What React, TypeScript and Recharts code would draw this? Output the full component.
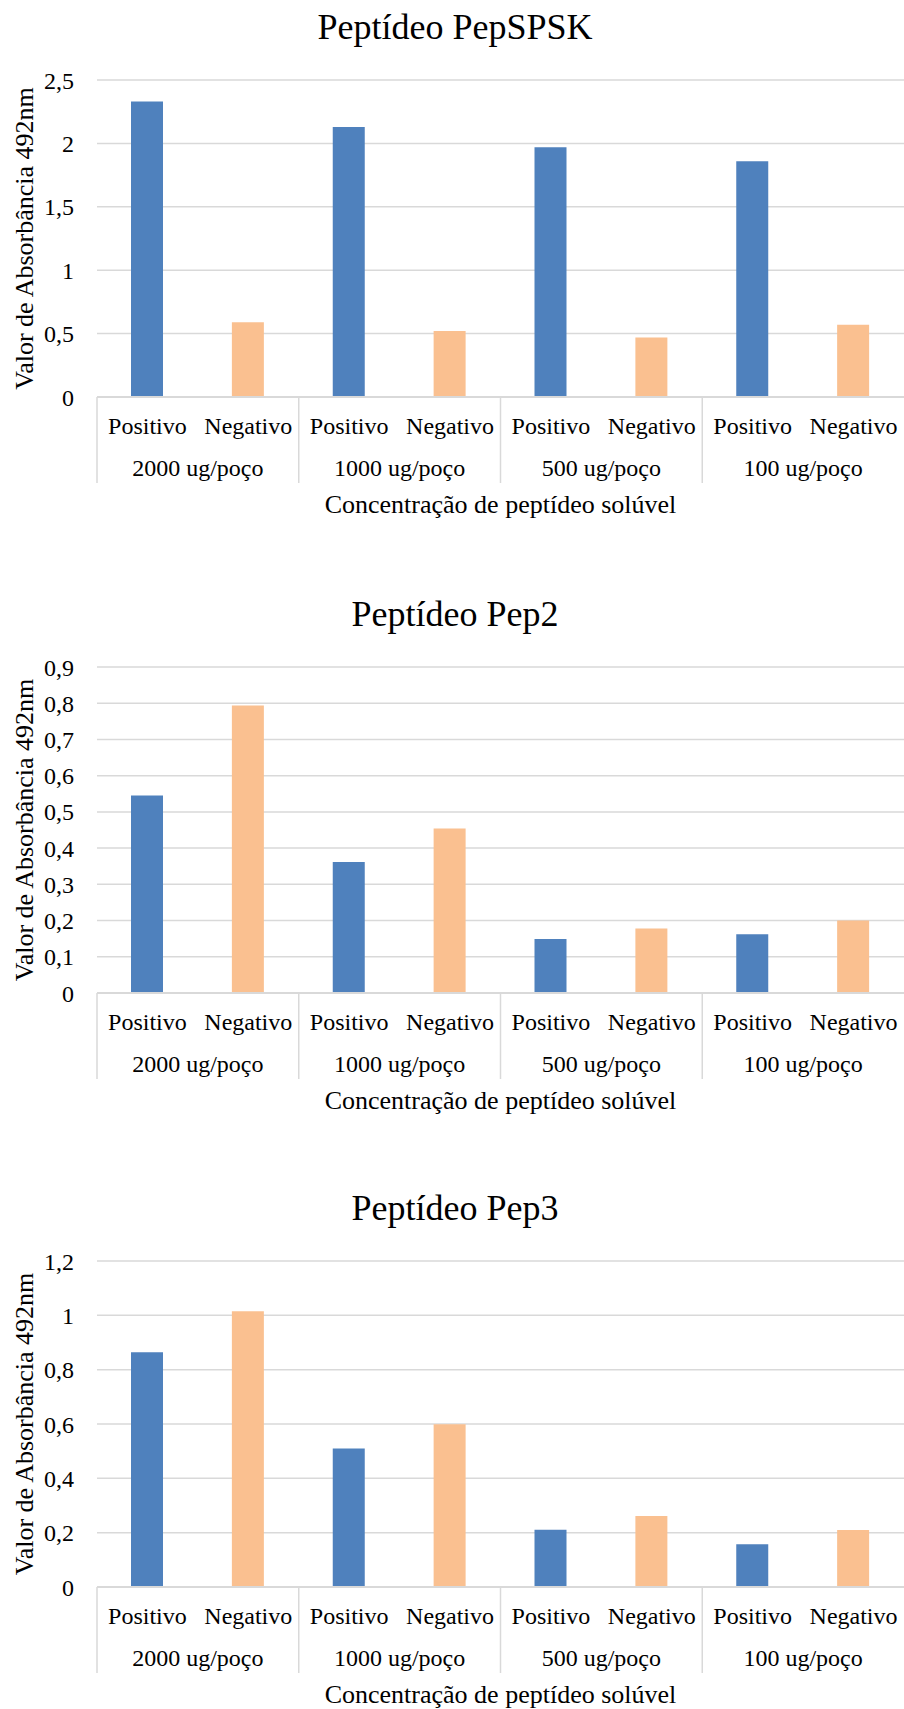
import React from 'react';
import { BarChart, Bar, XAxis, YAxis, CartesianGrid } from 'recharts';

const GROUPS = ['2000 ug/poço', '1000 ug/poço', '500 ug/poço', '100 ug/poço'];
const TYPES = ['Positivo', 'Negativo'];

const PEPSPSK_POSITIVO = [2.33, 2.13, 1.97, 1.86];
const PEPSPSK_NEGATIVO = [0.59, 0.52, 0.47, 0.57];
const PEPSPSK_TICKS = [0, 0.5, 1, 1.5, 2, 2.5];

const PEP2_POSITIVO = [0.545, 0.362, 0.149, 0.162];
const PEP2_NEGATIVO = [0.794, 0.454, 0.178, 0.2];
const PEP2_TICKS = [0, 0.1, 0.2, 0.3, 0.4, 0.5, 0.6, 0.7, 0.8, 0.9];

const PEP3_POSITIVO = [0.864, 0.51, 0.211, 0.157];
const PEP3_NEGATIVO = [1.015, 0.599, 0.261, 0.21];
const PEP3_TICKS = [0, 0.2, 0.4, 0.6, 0.8, 1, 1.2];

const COLORS = {
    positivo: '#4f81bd',
    negativo: '#fac090',
    grid: '#d9d9d9',
    text: '#000000',
};

const FONT = '"Liberation Serif", "Times New Roman", serif';

const CHART_W = 904;
const Y_AXIS_W = 97;
const TOP_PAD = 20;
const X_AXIS_H = 122;

type Row = { group: string; type: string; positivo: number | null; negativo: number | null };

function buildRows(pos: number[], neg: number[]): Row[] {
    const rows: Row[] = [];
    GROUPS.forEach((group, i) => {
        rows.push({ group, type: TYPES[0], positivo: pos[i], negativo: null });
        rows.push({ group, type: TYPES[1], positivo: null, negativo: neg[i] });
    });
    return rows;
}

const fmt = (v: number) => String(v).replace('.', ',');

// two-level category axis: type label, group label under each pair, and divider lines
const CategoryTick = ({ x, y, payload, index, rows, band }: any) => {
    const row: Row = rows[index];
    return (
        <g>
            <text x={x} y={y + 37} textAnchor="middle" fontSize={24} fontFamily={FONT} fill={COLORS.text}>
                {payload.value}
            </text>
            {index % 2 === 0 && (
                <g>
                    <line x1={x - band / 2} x2={x - band / 2} y1={y} y2={y + 86} stroke={COLORS.grid} strokeWidth={1.5} />
                    <text x={x + band / 2} y={y + 79} textAnchor="middle" fontSize={24} fontFamily={FONT} fill={COLORS.text}>
                        {row.group}
                    </text>
                </g>
            )}
        </g>
    );
};

interface ChartBlockProps {
    title: string;
    positivo: number[];
    negativo: number[];
    ticks: number[];
    gridTop: number;
    zeroY: number;
}

function ChartBlock({ title, positivo, negativo, ticks, gridTop, zeroY }: ChartBlockProps) {
    const rows = buildRows(positivo, negativo);
    const band = (CHART_W - Y_AXIS_W) / rows.length;
    const height = TOP_PAD + (zeroY - gridTop) + X_AXIS_H;

    return (
        <>
            <div
                style={{
                    position: 'absolute',
                    left: 0,
                    top: gridTop - 71,
                    width: 910,
                    textAlign: 'center',
                    fontFamily: FONT,
                    fontSize: 36,
                    lineHeight: '36px',
                    color: COLORS.text,
                }}
            >
                {title}
            </div>
            <div style={{ position: 'absolute', left: 0, top: gridTop - TOP_PAD }}>
                <BarChart width={CHART_W} height={height} data={rows} margin={{ top: TOP_PAD, right: 0, bottom: 0, left: 0 }}>
                    <CartesianGrid vertical={false} stroke={COLORS.grid} strokeWidth={1.5} />
                    <XAxis
                        dataKey="type"
                        interval={0}
                        height={X_AXIS_H}
                        tickLine={false}
                        tickSize={0}
                        tickMargin={0}
                        axisLine={{ stroke: COLORS.grid, strokeWidth: 2 }}
                        tick={(props: any) => <CategoryTick {...props} rows={rows} band={band} />}
                        label={({ viewBox }: any) => (
                            <text
                                x={viewBox.x + viewBox.width / 2}
                                y={viewBox.y + 116}
                                textAnchor="middle"
                                fontSize={26}
                                fontFamily={FONT}
                                fill={COLORS.text}
                            >
                                Concentração de peptídeo solúvel
                            </text>
                        )}
                    />
                    <YAxis
                        width={Y_AXIS_W}
                        domain={[0, ticks[ticks.length - 1]]}
                        ticks={ticks}
                        interval={0}
                        axisLine={false}
                        tickLine={false}
                        tickSize={0}
                        tickMargin={23}
                        tickFormatter={fmt}
                        tick={{ fontSize: 24, fontFamily: FONT, fill: COLORS.text }}
                        label={({ viewBox }: any) => {
                            const cx = viewBox.x + 33;
                            const cy = viewBox.y + viewBox.height / 2;
                            return (
                                <text
                                    x={cx}
                                    y={cy}
                                    transform={`rotate(-90, ${cx}, ${cy})`}
                                    textAnchor="middle"
                                    fontSize={26}
                                    fontFamily={FONT}
                                    fill={COLORS.text}
                                >
                                    Valor de Absorbância 492nm
                                </text>
                            );
                        }}
                    />
                    <Bar dataKey="positivo" stackId="s" fill={COLORS.positivo} barSize={32} isAnimationActive={false} />
                    <Bar dataKey="negativo" stackId="s" fill={COLORS.negativo} barSize={32} isAnimationActive={false} />
                </BarChart>
            </div>
        </>
    );
}

export default function App() {
    return (
        <div
            style={{
                position: 'absolute',
                left: 0,
                top: 0,
                width: 904,
                height: 1709,
                background: '#ffffff',
                overflow: 'hidden',
                fontFamily: FONT,
            }}
        >
            <ChartBlock
                title="Peptídeo PepSPSK"
                positivo={PEPSPSK_POSITIVO}
                negativo={PEPSPSK_NEGATIVO}
                ticks={PEPSPSK_TICKS}
                gridTop={80}
                zeroY={397}
            />
            <ChartBlock
                title="Peptídeo Pep2"
                positivo={PEP2_POSITIVO}
                negativo={PEP2_NEGATIVO}
                ticks={PEP2_TICKS}
                gridTop={667}
                zeroY={993}
            />
            <ChartBlock
                title="Peptídeo Pep3"
                positivo={PEP3_POSITIVO}
                negativo={PEP3_NEGATIVO}
                ticks={PEP3_TICKS}
                gridTop={1261}
                zeroY={1587}
            />
        </div>
    );
}
